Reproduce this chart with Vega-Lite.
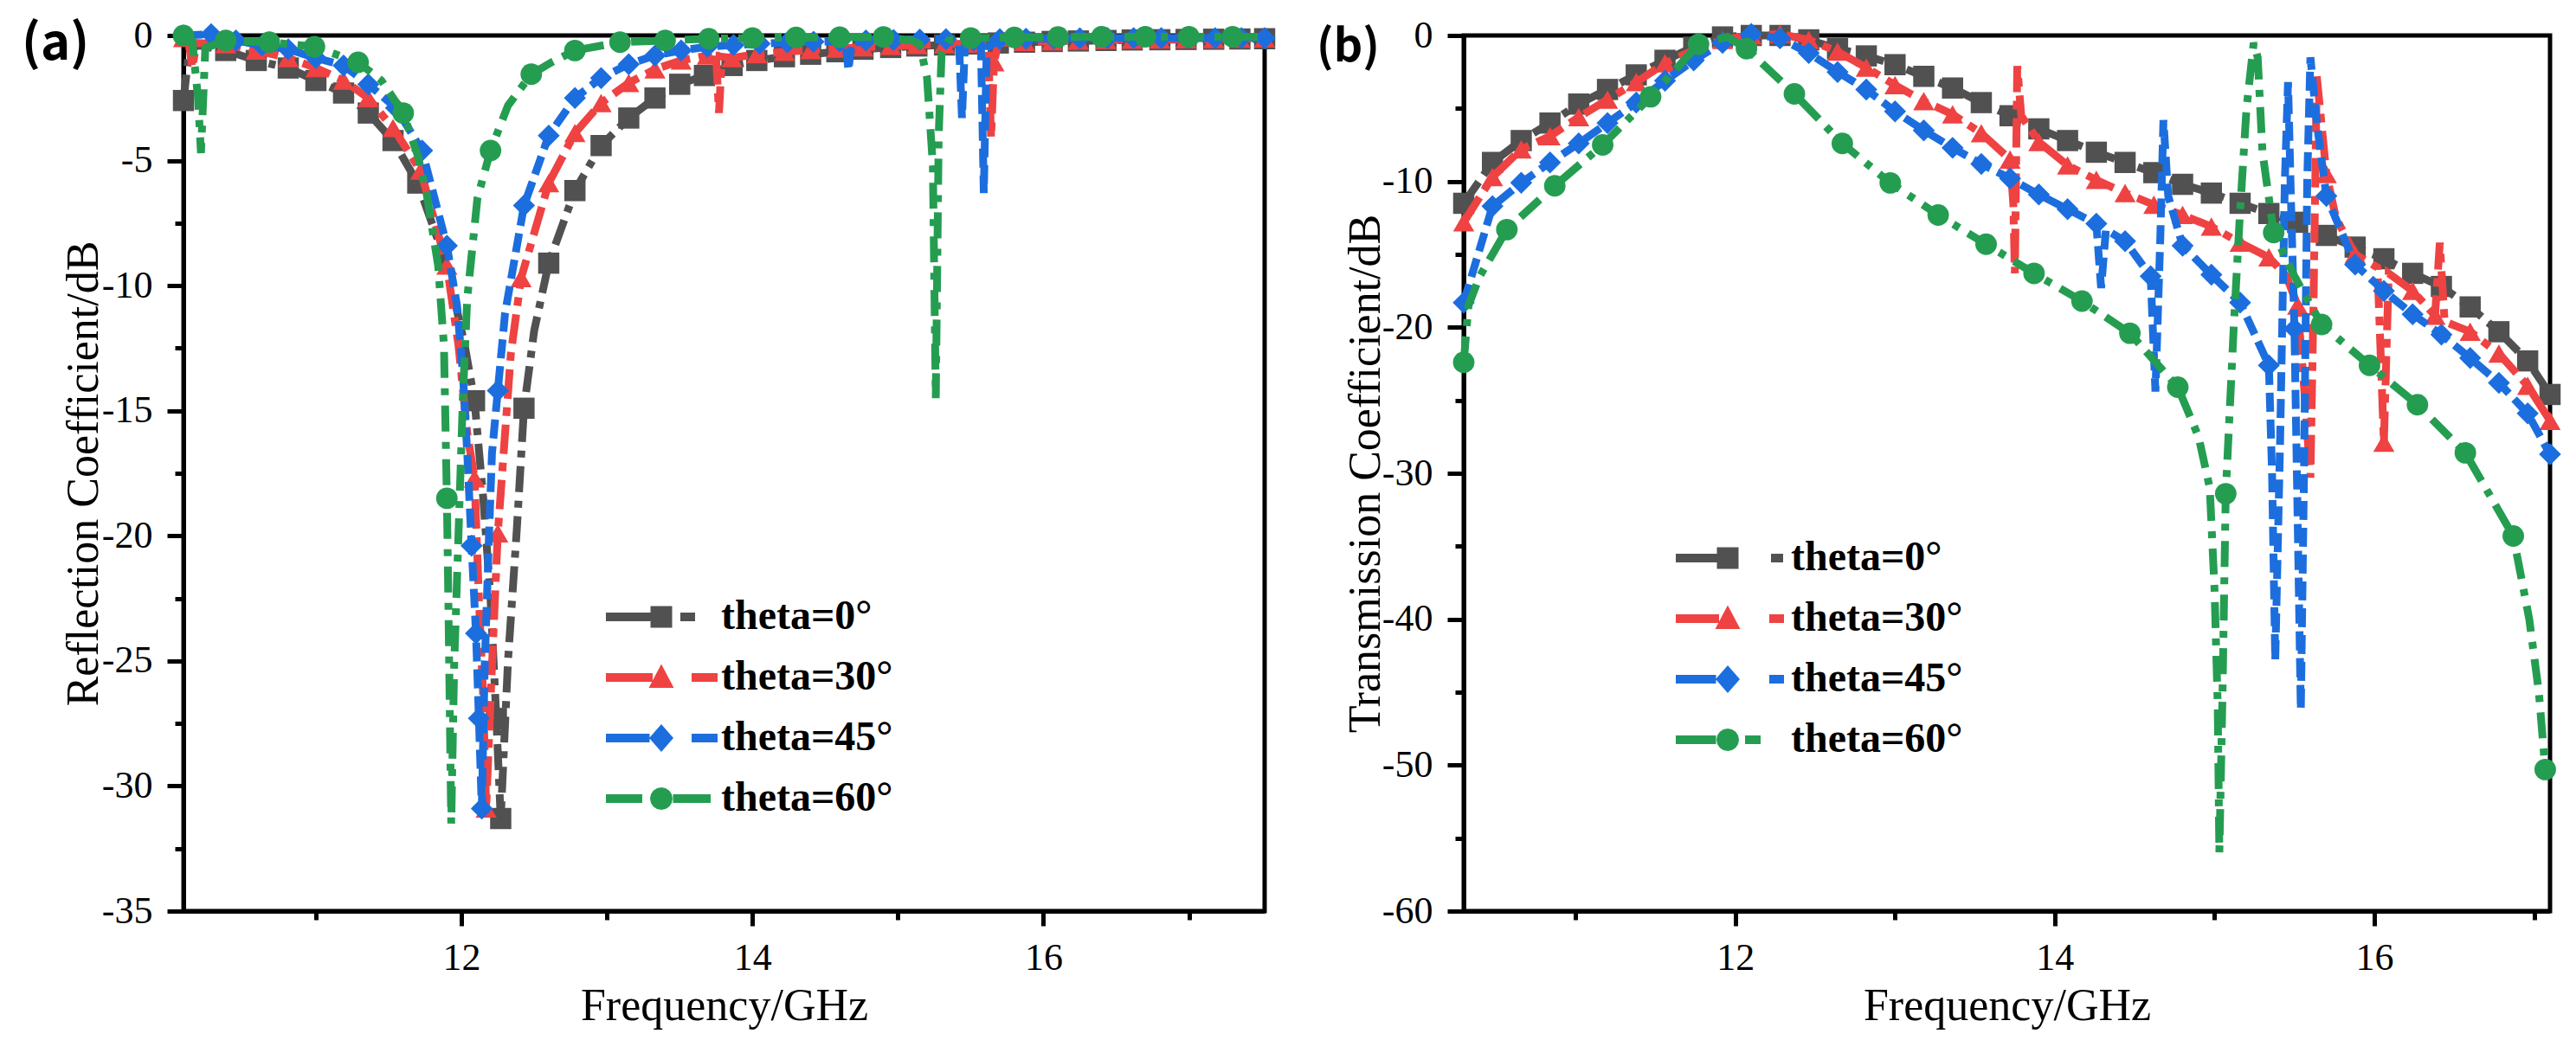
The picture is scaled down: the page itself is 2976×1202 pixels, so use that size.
{
  "$schema": "https://vega.github.io/schema/vega-lite/v6.json",
  "background": "white",
  "padding": {"left": 22, "top": 16, "right": 0, "bottom": 0},
  "datasets": {
    "A": [
      {"s":"theta=0°","f":10.09,"v":-2.6,"m":1},{"s":"theta=0°","f":10.13,"v":-0.5,"m":0},{"s":"theta=0°","f":10.2,"v":-0.4,"m":0},{"s":"theta=0°","f":10.38,"v":-0.6,"m":1},{"s":"theta=0°","f":10.59,"v":-1.0,"m":1},{"s":"theta=0°","f":10.81,"v":-1.3,"m":1},{"s":"theta=0°","f":11.0,"v":-1.8,"m":1},{"s":"theta=0°","f":11.19,"v":-2.3,"m":1},{"s":"theta=0°","f":11.36,"v":-3.1,"m":1},{"s":"theta=0°","f":11.53,"v":-4.2,"m":1},{"s":"theta=0°","f":11.7,"v":-5.9,"m":1},{"s":"theta=0°","f":11.87,"v":-8.7,"m":0},{"s":"theta=0°","f":11.95,"v":-10.5,"m":0},{"s":"theta=0°","f":12.02,"v":-12.3,"m":0},{"s":"theta=0°","f":12.09,"v":-14.6,"m":1},{"s":"theta=0°","f":12.15,"v":-18.5,"m":0},{"s":"theta=0°","f":12.2,"v":-22.5,"m":0},{"s":"theta=0°","f":12.24,"v":-27.3,"m":1},{"s":"theta=0°","f":12.27,"v":-31.3,"m":1},{"s":"theta=0°","f":12.32,"v":-25.0,"m":0},{"s":"theta=0°","f":12.38,"v":-19.8,"m":0},{"s":"theta=0°","f":12.43,"v":-14.9,"m":1},{"s":"theta=0°","f":12.5,"v":-11.8,"m":0},{"s":"theta=0°","f":12.6,"v":-9.1,"m":1},{"s":"theta=0°","f":12.78,"v":-6.2,"m":1},{"s":"theta=0°","f":12.96,"v":-4.4,"m":1},{"s":"theta=0°","f":13.15,"v":-3.3,"m":1},{"s":"theta=0°","f":13.33,"v":-2.5,"m":1},{"s":"theta=0°","f":13.5,"v":-1.95,"m":1},{"s":"theta=0°","f":13.67,"v":-1.6,"m":1},{"s":"theta=0°","f":13.86,"v":-1.2,"m":1},{"s":"theta=0°","f":14.03,"v":-1.0,"m":1},{"s":"theta=0°","f":14.22,"v":-0.85,"m":1},{"s":"theta=0°","f":14.4,"v":-0.75,"m":1},{"s":"theta=0°","f":14.58,"v":-0.65,"m":1},{"s":"theta=0°","f":14.76,"v":-0.55,"m":1},{"s":"theta=0°","f":14.95,"v":-0.48,"m":1},{"s":"theta=0°","f":15.13,"v":-0.42,"m":1},{"s":"theta=0°","f":15.32,"v":-0.38,"m":1},{"s":"theta=0°","f":15.5,"v":-0.34,"m":1},{"s":"theta=0°","f":15.69,"v":-0.3,"m":1},{"s":"theta=0°","f":15.87,"v":-0.27,"m":1},{"s":"theta=0°","f":16.06,"v":-0.24,"m":1},{"s":"theta=0°","f":16.24,"v":-0.22,"m":1},{"s":"theta=0°","f":16.43,"v":-0.2,"m":1},{"s":"theta=0°","f":16.61,"v":-0.18,"m":1},{"s":"theta=0°","f":16.8,"v":-0.17,"m":1},{"s":"theta=0°","f":16.98,"v":-0.16,"m":1},{"s":"theta=0°","f":17.17,"v":-0.15,"m":1},{"s":"theta=0°","f":17.35,"v":-0.14,"m":1},{"s":"theta=0°","f":17.52,"v":-0.13,"m":1},

      {"s":"theta=30°","f":10.09,"v":-0.1,"m":1},{"s":"theta=30°","f":10.13,"v":-0.4,"m":0},{"s":"theta=30°","f":10.15,"v":-1.3,"m":0},{"s":"theta=30°","f":10.18,"v":-0.3,"m":0},{"s":"theta=30°","f":10.38,"v":-0.35,"m":1},{"s":"theta=30°","f":10.59,"v":-0.6,"m":1},{"s":"theta=30°","f":10.81,"v":-0.9,"m":1},{"s":"theta=30°","f":11.0,"v":-1.3,"m":1},{"s":"theta=30°","f":11.19,"v":-1.8,"m":1},{"s":"theta=30°","f":11.36,"v":-2.5,"m":1},{"s":"theta=30°","f":11.53,"v":-3.7,"m":1},{"s":"theta=30°","f":11.72,"v":-5.4,"m":1},{"s":"theta=30°","f":11.9,"v":-9.2,"m":1},{"s":"theta=30°","f":11.98,"v":-12.4,"m":0},{"s":"theta=30°","f":12.04,"v":-15.9,"m":0},{"s":"theta=30°","f":12.09,"v":-17.7,"m":1},{"s":"theta=30°","f":12.12,"v":-22.5,"m":0},{"s":"theta=30°","f":12.15,"v":-26.5,"m":0},{"s":"theta=30°","f":12.17,"v":-30.9,"m":1},{"s":"theta=30°","f":12.21,"v":-25.2,"m":0},{"s":"theta=30°","f":12.25,"v":-19.9,"m":1},{"s":"theta=30°","f":12.3,"v":-15.9,"m":0},{"s":"theta=30°","f":12.34,"v":-12.7,"m":0},{"s":"theta=30°","f":12.41,"v":-9.7,"m":1},{"s":"theta=30°","f":12.6,"v":-5.9,"m":1},{"s":"theta=30°","f":12.78,"v":-3.9,"m":1},{"s":"theta=30°","f":12.96,"v":-2.7,"m":1},{"s":"theta=30°","f":13.15,"v":-1.9,"m":1},{"s":"theta=30°","f":13.33,"v":-1.35,"m":1},{"s":"theta=30°","f":13.51,"v":-1.0,"m":1},{"s":"theta=30°","f":13.69,"v":-0.8,"m":1},{"s":"theta=30°","f":13.75,"v":-0.8,"m":0},{"s":"theta=30°","f":13.77,"v":-3.1,"m":0},{"s":"theta=30°","f":13.79,"v":-0.85,"m":0},{"s":"theta=30°","f":13.86,"v":-0.9,"m":1},{"s":"theta=30°","f":14.03,"v":-0.75,"m":1},{"s":"theta=30°","f":14.22,"v":-0.65,"m":1},{"s":"theta=30°","f":14.4,"v":-0.58,"m":1},{"s":"theta=30°","f":14.58,"v":-0.52,"m":1},{"s":"theta=30°","f":14.76,"v":-0.47,"m":1},{"s":"theta=30°","f":14.95,"v":-0.42,"m":1},{"s":"theta=30°","f":15.13,"v":-0.38,"m":1},{"s":"theta=30°","f":15.32,"v":-0.35,"m":1},{"s":"theta=30°","f":15.5,"v":-0.33,"m":1},{"s":"theta=30°","f":15.62,"v":-0.4,"m":0},{"s":"theta=30°","f":15.64,"v":-4.1,"m":0},{"s":"theta=30°","f":15.66,"v":-1.07,"m":1},{"s":"theta=30°","f":15.69,"v":-0.3,"m":0},{"s":"theta=30°","f":15.87,"v":-0.26,"m":1},{"s":"theta=30°","f":16.06,"v":-0.23,"m":1},{"s":"theta=30°","f":16.24,"v":-0.2,"m":1},{"s":"theta=30°","f":16.43,"v":-0.18,"m":1},{"s":"theta=30°","f":16.61,"v":-0.17,"m":1},{"s":"theta=30°","f":16.8,"v":-0.16,"m":1},{"s":"theta=30°","f":16.98,"v":-0.15,"m":1},{"s":"theta=30°","f":17.17,"v":-0.14,"m":1},{"s":"theta=30°","f":17.35,"v":-0.13,"m":1},{"s":"theta=30°","f":17.52,"v":-0.12,"m":1},

      {"s":"theta=45°","f":10.09,"v":0.0,"m":1},{"s":"theta=45°","f":10.28,"v":0.05,"m":1},{"s":"theta=45°","f":10.45,"v":-0.2,"m":1},{"s":"theta=45°","f":10.63,"v":-0.4,"m":1},{"s":"theta=45°","f":10.81,"v":-0.55,"m":1},{"s":"theta=45°","f":11.0,"v":-0.9,"m":1},{"s":"theta=45°","f":11.19,"v":-1.2,"m":1},{"s":"theta=45°","f":11.36,"v":-1.95,"m":1},{"s":"theta=45°","f":11.55,"v":-2.9,"m":1},{"s":"theta=45°","f":11.73,"v":-4.6,"m":1},{"s":"theta=45°","f":11.9,"v":-8.4,"m":1},{"s":"theta=45°","f":11.97,"v":-10.8,"m":0},{"s":"theta=45°","f":12.01,"v":-13.5,"m":0},{"s":"theta=45°","f":12.04,"v":-16.7,"m":0},{"s":"theta=45°","f":12.07,"v":-20.4,"m":1},{"s":"theta=45°","f":12.1,"v":-23.9,"m":1},{"s":"theta=45°","f":12.12,"v":-27.3,"m":1},{"s":"theta=45°","f":12.14,"v":-30.9,"m":1},{"s":"theta=45°","f":12.16,"v":-25.2,"m":0},{"s":"theta=45°","f":12.19,"v":-19.9,"m":0},{"s":"theta=45°","f":12.21,"v":-16.7,"m":0},{"s":"theta=45°","f":12.25,"v":-14.2,"m":1},{"s":"theta=45°","f":12.3,"v":-11.1,"m":0},{"s":"theta=45°","f":12.43,"v":-6.8,"m":1},{"s":"theta=45°","f":12.6,"v":-4.0,"m":1},{"s":"theta=45°","f":12.78,"v":-2.5,"m":1},{"s":"theta=45°","f":12.96,"v":-1.7,"m":1},{"s":"theta=45°","f":13.15,"v":-1.15,"m":1},{"s":"theta=45°","f":13.33,"v":-0.8,"m":1},{"s":"theta=45°","f":13.51,"v":-0.6,"m":1},{"s":"theta=45°","f":13.69,"v":-0.45,"m":1},{"s":"theta=45°","f":13.87,"v":-0.38,"m":1},{"s":"theta=45°","f":14.05,"v":-0.33,"m":1},{"s":"theta=45°","f":14.24,"v":-0.28,"m":1},{"s":"theta=45°","f":14.42,"v":-0.25,"m":1},{"s":"theta=45°","f":14.6,"v":-0.23,"m":1},{"s":"theta=45°","f":14.64,"v":-0.3,"m":0},{"s":"theta=45°","f":14.66,"v":-1.4,"m":0},{"s":"theta=45°","f":14.68,"v":-0.3,"m":0},{"s":"theta=45°","f":14.78,"v":-0.2,"m":1},{"s":"theta=45°","f":14.97,"v":-0.18,"m":1},{"s":"theta=45°","f":15.15,"v":-0.16,"m":1},{"s":"theta=45°","f":15.33,"v":-0.15,"m":1},{"s":"theta=45°","f":15.42,"v":-0.3,"m":0},{"s":"theta=45°","f":15.44,"v":-3.3,"m":0},{"s":"theta=45°","f":15.46,"v":-0.4,"m":0},{"s":"theta=45°","f":15.52,"v":-0.2,"m":1},{"s":"theta=45°","f":15.57,"v":-0.3,"m":0},{"s":"theta=45°","f":15.59,"v":-6.3,"m":0},{"s":"theta=45°","f":15.61,"v":-0.5,"m":0},{"s":"theta=45°","f":15.7,"v":-0.15,"m":1},{"s":"theta=45°","f":15.88,"v":-0.13,"m":1},{"s":"theta=45°","f":16.07,"v":-0.12,"m":1},{"s":"theta=45°","f":16.25,"v":-0.11,"m":1},{"s":"theta=45°","f":16.44,"v":-0.1,"m":1},{"s":"theta=45°","f":16.62,"v":-0.1,"m":1},{"s":"theta=45°","f":16.81,"v":-0.1,"m":1},{"s":"theta=45°","f":16.99,"v":-0.1,"m":1},{"s":"theta=45°","f":17.18,"v":-0.1,"m":1},{"s":"theta=45°","f":17.36,"v":-0.1,"m":1},{"s":"theta=45°","f":17.52,"v":-0.1,"m":1},

      {"s":"theta=60°","f":10.09,"v":0.0,"m":1},{"s":"theta=60°","f":10.15,"v":-0.2,"m":0},{"s":"theta=60°","f":10.19,"v":-2.5,"m":0},{"s":"theta=60°","f":10.21,"v":-4.7,"m":0},{"s":"theta=60°","f":10.24,"v":-0.5,"m":0},{"s":"theta=60°","f":10.38,"v":-0.2,"m":1},{"s":"theta=60°","f":10.68,"v":-0.27,"m":1},{"s":"theta=60°","f":10.99,"v":-0.45,"m":1},{"s":"theta=60°","f":11.29,"v":-1.07,"m":1},{"s":"theta=60°","f":11.45,"v":-1.8,"m":0},{"s":"theta=60°","f":11.6,"v":-3.1,"m":1},{"s":"theta=60°","f":11.7,"v":-4.8,"m":0},{"s":"theta=60°","f":11.76,"v":-6.3,"m":0},{"s":"theta=60°","f":11.84,"v":-9.2,"m":0},{"s":"theta=60°","f":11.88,"v":-12.4,"m":0},{"s":"theta=60°","f":11.9,"v":-18.5,"m":1},{"s":"theta=60°","f":11.91,"v":-22.5,"m":0},{"s":"theta=60°","f":11.93,"v":-31.5,"m":0},{"s":"theta=60°","f":11.95,"v":-25.2,"m":0},{"s":"theta=60°","f":11.98,"v":-19.9,"m":0},{"s":"theta=60°","f":12.01,"v":-14.5,"m":0},{"s":"theta=60°","f":12.04,"v":-10.5,"m":0},{"s":"theta=60°","f":12.11,"v":-6.5,"m":0},{"s":"theta=60°","f":12.2,"v":-4.6,"m":1},{"s":"theta=60°","f":12.32,"v":-2.8,"m":0},{"s":"theta=60°","f":12.48,"v":-1.55,"m":1},{"s":"theta=60°","f":12.62,"v":-1.07,"m":0},{"s":"theta=60°","f":12.78,"v":-0.6,"m":1},{"s":"theta=60°","f":13.09,"v":-0.27,"m":1},{"s":"theta=60°","f":13.4,"v":-0.2,"m":1},{"s":"theta=60°","f":13.7,"v":-0.13,"m":1},{"s":"theta=60°","f":14.0,"v":-0.1,"m":1},{"s":"theta=60°","f":14.3,"v":-0.08,"m":1},{"s":"theta=60°","f":14.6,"v":-0.07,"m":1},{"s":"theta=60°","f":14.9,"v":-0.06,"m":1},{"s":"theta=60°","f":15.1,"v":-0.2,"m":0},{"s":"theta=60°","f":15.15,"v":-0.35,"m":0},{"s":"theta=60°","f":15.2,"v":-1.7,"m":0},{"s":"theta=60°","f":15.24,"v":-5.2,"m":0},{"s":"theta=60°","f":15.26,"v":-14.5,"m":0},{"s":"theta=60°","f":15.28,"v":-4.0,"m":0},{"s":"theta=60°","f":15.3,"v":-0.7,"m":0},{"s":"theta=60°","f":15.35,"v":-0.2,"m":0},{"s":"theta=60°","f":15.5,"v":-0.1,"m":1},{"s":"theta=60°","f":15.8,"v":-0.08,"m":1},{"s":"theta=60°","f":16.1,"v":-0.06,"m":1},{"s":"theta=60°","f":16.4,"v":-0.05,"m":1},{"s":"theta=60°","f":16.7,"v":-0.05,"m":1},{"s":"theta=60°","f":17.0,"v":-0.05,"m":1},{"s":"theta=60°","f":17.3,"v":-0.05,"m":1},{"s":"theta=60°","f":17.52,"v":-0.05,"m":0}
    ],
    "B": [
      {"s":"theta=0°","f":10.3,"v":-11.5,"m":1},{"s":"theta=0°","f":10.48,"v":-8.7,"m":1},{"s":"theta=0°","f":10.66,"v":-7.2,"m":1},{"s":"theta=0°","f":10.84,"v":-6.0,"m":1},{"s":"theta=0°","f":11.02,"v":-4.7,"m":1},{"s":"theta=0°","f":11.2,"v":-3.7,"m":1},{"s":"theta=0°","f":11.38,"v":-2.7,"m":1},{"s":"theta=0°","f":11.56,"v":-1.7,"m":1},{"s":"theta=0°","f":11.74,"v":-0.8,"m":1},{"s":"theta=0°","f":11.92,"v":-0.1,"m":1},{"s":"theta=0°","f":12.1,"v":0.0,"m":1},{"s":"theta=0°","f":12.28,"v":0.0,"m":1},{"s":"theta=0°","f":12.46,"v":-0.3,"m":1},{"s":"theta=0°","f":12.64,"v":-0.9,"m":1},{"s":"theta=0°","f":12.82,"v":-1.4,"m":1},{"s":"theta=0°","f":13.0,"v":-2.0,"m":1},{"s":"theta=0°","f":13.18,"v":-2.8,"m":1},{"s":"theta=0°","f":13.36,"v":-3.6,"m":1},{"s":"theta=0°","f":13.54,"v":-4.6,"m":1},{"s":"theta=0°","f":13.72,"v":-5.5,"m":1},{"s":"theta=0°","f":13.9,"v":-6.4,"m":1},{"s":"theta=0°","f":14.08,"v":-7.2,"m":1},{"s":"theta=0°","f":14.26,"v":-8.0,"m":1},{"s":"theta=0°","f":14.44,"v":-8.7,"m":1},{"s":"theta=0°","f":14.62,"v":-9.4,"m":1},{"s":"theta=0°","f":14.8,"v":-10.2,"m":1},{"s":"theta=0°","f":14.98,"v":-10.8,"m":1},{"s":"theta=0°","f":15.16,"v":-11.5,"m":1},{"s":"theta=0°","f":15.34,"v":-12.2,"m":1},{"s":"theta=0°","f":15.52,"v":-12.8,"m":1},{"s":"theta=0°","f":15.7,"v":-13.7,"m":1},{"s":"theta=0°","f":15.88,"v":-14.5,"m":1},{"s":"theta=0°","f":16.06,"v":-15.3,"m":1},{"s":"theta=0°","f":16.24,"v":-16.3,"m":1},{"s":"theta=0°","f":16.42,"v":-17.2,"m":1},{"s":"theta=0°","f":16.6,"v":-18.6,"m":1},{"s":"theta=0°","f":16.78,"v":-20.3,"m":1},{"s":"theta=0°","f":16.96,"v":-22.3,"m":1},{"s":"theta=0°","f":17.1,"v":-24.6,"m":1},

      {"s":"theta=30°","f":10.3,"v":-12.8,"m":1},{"s":"theta=30°","f":10.48,"v":-9.7,"m":1},{"s":"theta=30°","f":10.66,"v":-7.8,"m":1},{"s":"theta=30°","f":10.84,"v":-6.9,"m":1},{"s":"theta=30°","f":11.02,"v":-5.6,"m":1},{"s":"theta=30°","f":11.2,"v":-4.4,"m":1},{"s":"theta=30°","f":11.38,"v":-3.2,"m":1},{"s":"theta=30°","f":11.56,"v":-1.9,"m":1},{"s":"theta=30°","f":11.74,"v":-1.0,"m":1},{"s":"theta=30°","f":11.92,"v":-0.3,"m":1},{"s":"theta=30°","f":12.1,"v":0.0,"m":1},{"s":"theta=30°","f":12.28,"v":0.1,"m":1},{"s":"theta=30°","f":12.46,"v":-0.3,"m":1},{"s":"theta=30°","f":12.64,"v":-1.1,"m":1},{"s":"theta=30°","f":12.82,"v":-2.2,"m":1},{"s":"theta=30°","f":13.0,"v":-3.4,"m":1},{"s":"theta=30°","f":13.18,"v":-4.5,"m":1},{"s":"theta=30°","f":13.36,"v":-5.4,"m":1},{"s":"theta=30°","f":13.54,"v":-6.7,"m":1},{"s":"theta=30°","f":13.72,"v":-8.5,"m":1},{"s":"theta=30°","f":13.74,"v":-11.5,"m":0},{"s":"theta=30°","f":13.75,"v":-16.3,"m":0},{"s":"theta=30°","f":13.765,"v":-2.1,"m":0},{"s":"theta=30°","f":13.79,"v":-5.5,"m":0},{"s":"theta=30°","f":13.9,"v":-7.3,"m":1},{"s":"theta=30°","f":14.08,"v":-8.9,"m":1},{"s":"theta=30°","f":14.26,"v":-9.9,"m":1},{"s":"theta=30°","f":14.44,"v":-10.8,"m":1},{"s":"theta=30°","f":14.62,"v":-11.6,"m":1},{"s":"theta=30°","f":14.8,"v":-12.3,"m":1},{"s":"theta=30°","f":14.98,"v":-13.1,"m":1},{"s":"theta=30°","f":15.16,"v":-14.2,"m":1},{"s":"theta=30°","f":15.34,"v":-15.2,"m":1},{"s":"theta=30°","f":15.45,"v":-16.5,"m":0},{"s":"theta=30°","f":15.52,"v":-18.5,"m":1},{"s":"theta=30°","f":15.56,"v":-24.0,"m":0},{"s":"theta=30°","f":15.6,"v":-30.3,"m":0},{"s":"theta=30°","f":15.62,"v":-18.0,"m":0},{"s":"theta=30°","f":15.64,"v":-2.8,"m":0},{"s":"theta=30°","f":15.66,"v":-5.0,"m":0},{"s":"theta=30°","f":15.7,"v":-9.5,"m":1},{"s":"theta=30°","f":15.76,"v":-12.5,"m":0},{"s":"theta=30°","f":15.88,"v":-15.0,"m":1},{"s":"theta=30°","f":16.02,"v":-15.9,"m":0},{"s":"theta=30°","f":16.06,"v":-27.9,"m":1},{"s":"theta=30°","f":16.09,"v":-16.3,"m":0},{"s":"theta=30°","f":16.24,"v":-17.5,"m":1},{"s":"theta=30°","f":16.38,"v":-19.2,"m":1},{"s":"theta=30°","f":16.41,"v":-14.2,"m":0},{"s":"theta=30°","f":16.44,"v":-19.6,"m":0},{"s":"theta=30°","f":16.6,"v":-20.3,"m":1},{"s":"theta=30°","f":16.78,"v":-21.8,"m":1},{"s":"theta=30°","f":16.96,"v":-24.0,"m":1},{"s":"theta=30°","f":17.1,"v":-26.4,"m":1},

      {"s":"theta=45°","f":10.3,"v":-18.3,"m":1},{"s":"theta=45°","f":10.48,"v":-11.7,"m":1},{"s":"theta=45°","f":10.66,"v":-10.1,"m":1},{"s":"theta=45°","f":10.84,"v":-8.7,"m":1},{"s":"theta=45°","f":11.02,"v":-7.4,"m":1},{"s":"theta=45°","f":11.2,"v":-6.0,"m":1},{"s":"theta=45°","f":11.38,"v":-4.6,"m":1},{"s":"theta=45°","f":11.56,"v":-3.1,"m":1},{"s":"theta=45°","f":11.74,"v":-1.7,"m":1},{"s":"theta=45°","f":11.92,"v":-0.5,"m":1},{"s":"theta=45°","f":12.1,"v":0.1,"m":1},{"s":"theta=45°","f":12.28,"v":-0.2,"m":1},{"s":"theta=45°","f":12.46,"v":-1.2,"m":1},{"s":"theta=45°","f":12.64,"v":-2.5,"m":1},{"s":"theta=45°","f":12.82,"v":-3.7,"m":1},{"s":"theta=45°","f":13.0,"v":-5.2,"m":1},{"s":"theta=45°","f":13.18,"v":-6.5,"m":1},{"s":"theta=45°","f":13.36,"v":-7.7,"m":1},{"s":"theta=45°","f":13.54,"v":-8.8,"m":1},{"s":"theta=45°","f":13.72,"v":-9.8,"m":1},{"s":"theta=45°","f":13.9,"v":-10.9,"m":1},{"s":"theta=45°","f":14.08,"v":-11.9,"m":1},{"s":"theta=45°","f":14.26,"v":-12.9,"m":1},{"s":"theta=45°","f":14.29,"v":-17.3,"m":0},{"s":"theta=45°","f":14.32,"v":-13.3,"m":0},{"s":"theta=45°","f":14.44,"v":-14.1,"m":1},{"s":"theta=45°","f":14.6,"v":-16.5,"m":1},{"s":"theta=45°","f":14.63,"v":-24.4,"m":0},{"s":"theta=45°","f":14.66,"v":-14.0,"m":0},{"s":"theta=45°","f":14.68,"v":-5.8,"m":0},{"s":"theta=45°","f":14.71,"v":-11.0,"m":0},{"s":"theta=45°","f":14.8,"v":-14.4,"m":1},{"s":"theta=45°","f":14.98,"v":-16.4,"m":1},{"s":"theta=45°","f":15.16,"v":-18.3,"m":1},{"s":"theta=45°","f":15.34,"v":-22.6,"m":1},{"s":"theta=45°","f":15.36,"v":-30.0,"m":0},{"s":"theta=45°","f":15.38,"v":-42.8,"m":0},{"s":"theta=45°","f":15.41,"v":-28.0,"m":0},{"s":"theta=45°","f":15.44,"v":-10.0,"m":0},{"s":"theta=45°","f":15.46,"v":-3.2,"m":0},{"s":"theta=45°","f":15.48,"v":-12.0,"m":0},{"s":"theta=45°","f":15.5,"v":-20.1,"m":1},{"s":"theta=45°","f":15.52,"v":-33.0,"m":0},{"s":"theta=45°","f":15.54,"v":-46.2,"m":0},{"s":"theta=45°","f":15.56,"v":-30.0,"m":0},{"s":"theta=45°","f":15.58,"v":-10.0,"m":0},{"s":"theta=45°","f":15.6,"v":-1.5,"m":0},{"s":"theta=45°","f":15.64,"v":-6.0,"m":0},{"s":"theta=45°","f":15.7,"v":-11.0,"m":1},{"s":"theta=45°","f":15.88,"v":-15.7,"m":1},{"s":"theta=45°","f":16.06,"v":-17.5,"m":1},{"s":"theta=45°","f":16.24,"v":-19.1,"m":1},{"s":"theta=45°","f":16.42,"v":-20.5,"m":1},{"s":"theta=45°","f":16.6,"v":-22.1,"m":1},{"s":"theta=45°","f":16.78,"v":-23.8,"m":1},{"s":"theta=45°","f":16.96,"v":-25.9,"m":1},{"s":"theta=45°","f":17.1,"v":-28.7,"m":1},

      {"s":"theta=60°","f":10.3,"v":-22.4,"m":1},{"s":"theta=60°","f":10.33,"v":-18.5,"m":0},{"s":"theta=60°","f":10.4,"v":-16.5,"m":0},{"s":"theta=60°","f":10.57,"v":-13.3,"m":1},{"s":"theta=60°","f":10.87,"v":-10.3,"m":1},{"s":"theta=60°","f":11.17,"v":-7.5,"m":1},{"s":"theta=60°","f":11.47,"v":-4.2,"m":1},{"s":"theta=60°","f":11.77,"v":-0.6,"m":1},{"s":"theta=60°","f":11.95,"v":-0.1,"m":0},{"s":"theta=60°","f":12.07,"v":-0.9,"m":1},{"s":"theta=60°","f":12.37,"v":-4.0,"m":1},{"s":"theta=60°","f":12.67,"v":-7.4,"m":1},{"s":"theta=60°","f":12.97,"v":-10.1,"m":1},{"s":"theta=60°","f":13.27,"v":-12.3,"m":1},{"s":"theta=60°","f":13.57,"v":-14.3,"m":1},{"s":"theta=60°","f":13.87,"v":-16.3,"m":1},{"s":"theta=60°","f":14.17,"v":-18.2,"m":1},{"s":"theta=60°","f":14.47,"v":-20.4,"m":1},{"s":"theta=60°","f":14.77,"v":-24.1,"m":1},{"s":"theta=60°","f":14.9,"v":-27.5,"m":0},{"s":"theta=60°","f":14.97,"v":-31.0,"m":0},{"s":"theta=60°","f":15.0,"v":-38.0,"m":0},{"s":"theta=60°","f":15.02,"v":-46.0,"m":0},{"s":"theta=60°","f":15.03,"v":-56.0,"m":0},{"s":"theta=60°","f":15.05,"v":-45.0,"m":0},{"s":"theta=60°","f":15.07,"v":-31.4,"m":1},{"s":"theta=60°","f":15.12,"v":-20.0,"m":0},{"s":"theta=60°","f":15.16,"v":-12.0,"m":0},{"s":"theta=60°","f":15.2,"v":-5.0,"m":0},{"s":"theta=60°","f":15.245,"v":-0.5,"m":0},{"s":"theta=60°","f":15.27,"v":-1.5,"m":0},{"s":"theta=60°","f":15.3,"v":-8.0,"m":0},{"s":"theta=60°","f":15.37,"v":-13.5,"m":1},{"s":"theta=60°","f":15.5,"v":-16.5,"m":0},{"s":"theta=60°","f":15.67,"v":-19.8,"m":1},{"s":"theta=60°","f":15.97,"v":-22.6,"m":1},{"s":"theta=60°","f":16.27,"v":-25.3,"m":1},{"s":"theta=60°","f":16.57,"v":-28.6,"m":1},{"s":"theta=60°","f":16.87,"v":-34.3,"m":1},{"s":"theta=60°","f":16.97,"v":-40.0,"m":0},{"s":"theta=60°","f":17.03,"v":-45.0,"m":0},{"s":"theta=60°","f":17.07,"v":-50.3,"m":1}
    ]
  },
  "hconcat": [
    {
      "width": 1249,
      "height": 1012,
      "title": {"text": "(a)", "anchor": "start", "frame": "group", "orient": "top", "font": "Noto Sans CJK SC", "fontSize": 58, "fontWeight": "bold", "color": "black", "baseline": "alphabetic", "dx": -187, "dy": 62, "offset": -46},
      "data": {"name": "A"},
      "layer": [
        {
          "transform": [{"filter": "datum.s == 'theta=0°'"}],
          "mark": {"type": "line", "strokeWidth": 9, "strokeDash": [30, 10, 8, 10], "clip": false},
          "encoding": {
            "x": {"field": "f", "type": "quantitative", "scale": {"domain": [10.09, 17.52], "nice": false, "zero": false},
                  "axis": {"values": [12, 14, 16], "title": "Frequency/GHz", "titleY": 125, "titleBaseline": "alphabetic", "tickSize": 17, "labelPadding": 50, "labelBaseline": "alphabetic", "labelFlush": false, "labelOverlap": false}},
            "y": {"field": "v", "type": "quantitative", "scale": {"domain": [-35, 0], "nice": false, "zero": false},
                  "axis": {"values": [-35, -30, -25, -20, -15, -10, -5, 0], "title": "Reflection Coefficient/dB", "titleX": -100, "titleBaseline": "alphabetic", "tickSize": 19, "labelPadding": 17, "labelExpr": "datum.value < 0 ? '-' + abs(datum.value) : '' + datum.value", "labelFlush": false, "labelOverlap": false}},
            "color": {"field": "s", "type": "nominal",
                      "scale": {"domain": ["theta=0°", "theta=30°", "theta=45°", "theta=60°"], "range": ["#515151", "#EF4242", "#1C6EDE", "#259D51"]},
                      "legend": {"orient": "none", "legendX": 528, "legendY": 648, "title": null, "padding": 0, "symbolSize": 400, "symbolOpacity": 1, "symbolStrokeWidth": 0, "labelOffset": 45, "rowPadding": 22, "labelLimit": 0,
                                 "labelFont": "Liberation Serif", "labelFontSize": 48, "labelFontWeight": "bold", "labelColor": "black"}}
          }
        },
        {
          "transform": [{"filter": "datum.s == 'theta=0°' && datum.m == 1"}],
          "mark": {"type": "point", "shape": "square", "filled": true, "size": 600, "opacity": 1, "strokeWidth": 0, "clip": false},
          "encoding": {
            "x": {"field": "f", "type": "quantitative", "axis": {"orient": "bottom", "values": [11, 13, 15, 17], "labels": false, "title": null, "domain": false, "tickSize": 10}},
            "y": {"field": "v", "type": "quantitative", "axis": {"orient": "left", "values": [-32.5, -27.5, -22.5, -17.5, -12.5, -7.5, -2.5], "labels": false, "title": null, "domain": false, "tickSize": 10}},
            "color": {"field": "s", "type": "nominal"}
          }
        },
        {
          "transform": [{"filter": "datum.s == 'theta=30°'"}],
          "mark": {"type": "line", "strokeWidth": 9, "strokeDash": [34, 10, 10, 10], "clip": false},
          "encoding": {"x": {"field": "f", "type": "quantitative", "axis": null}, "y": {"field": "v", "type": "quantitative", "axis": null}, "color": {"field": "s", "type": "nominal"}}
        },
        {
          "transform": [{"filter": "datum.s == 'theta=30°' && datum.m == 1"}],
          "mark": {"type": "point", "shape": "triangle-up", "filled": true, "size": 600, "opacity": 1, "strokeWidth": 0, "clip": false},
          "encoding": {"x": {"field": "f", "type": "quantitative", "axis": null}, "y": {"field": "v", "type": "quantitative", "axis": null}, "color": {"field": "s", "type": "nominal"}}
        },
        {
          "transform": [{"filter": "datum.s == 'theta=45°'"}],
          "mark": {"type": "line", "strokeWidth": 9, "strokeDash": [22, 9], "clip": false},
          "encoding": {"x": {"field": "f", "type": "quantitative", "axis": null}, "y": {"field": "v", "type": "quantitative", "axis": null}, "color": {"field": "s", "type": "nominal"}}
        },
        {
          "transform": [{"filter": "datum.s == 'theta=45°' && datum.m == 1"}],
          "mark": {"type": "point", "shape": "diamond", "filled": true, "size": 650, "opacity": 1, "strokeWidth": 0, "clip": false},
          "encoding": {"x": {"field": "f", "type": "quantitative", "axis": null}, "y": {"field": "v", "type": "quantitative", "axis": null}, "color": {"field": "s", "type": "nominal"}}
        },
        {
          "transform": [{"filter": "datum.s == 'theta=60°'"}],
          "mark": {"type": "line", "strokeWidth": 9, "strokeDash": [30, 12, 8, 12], "clip": false},
          "encoding": {"x": {"field": "f", "type": "quantitative", "axis": null}, "y": {"field": "v", "type": "quantitative", "axis": null}, "color": {"field": "s", "type": "nominal"}}
        },
        {
          "transform": [{"filter": "datum.s == 'theta=60°' && datum.m == 1"}],
          "mark": {"type": "point", "shape": "circle", "filled": true, "size": 620, "opacity": 1, "strokeWidth": 0, "clip": false},
          "encoding": {"x": {"field": "f", "type": "quantitative", "axis": null}, "y": {"field": "v", "type": "quantitative", "axis": null}, "color": {"field": "s", "type": "nominal"}}
        },
        {
          "transform": [{"filter": "datum.m == 1"}],
          "mark": {"type": "point", "filled": true, "size": 1, "opacity": 0},
          "encoding": {
            "x": {"field": "f", "type": "quantitative", "axis": null},
            "y": {"field": "v", "type": "quantitative", "axis": null},
            "color": {"field": "s", "type": "nominal"},
            "shape": {"field": "s", "type": "nominal",
                      "scale": {"domain": ["theta=0°", "theta=30°", "theta=45°", "theta=60°"],
                                "range": ["M-6.4,-0.5H-1.25V0.5H-6.4Z M-1.25,-1.25H1.25V1.25H-1.25Z M2.2,-0.5H3.9V0.5H2.2Z",
                                          "M-6.4,-0.5H-1V0.5H-6.4Z M0,-1.55L1.45,1.2L-1.45,1.2Z M3.5,-0.5H6.5V0.5H3.5Z",
                                          "M-6.4,-0.5H-1.35V0.5H-6.4Z M0,-1.6L1.4,0L0,1.6L-1.4,0Z M3.5,-0.5H6.5V0.5H3.5Z",
                                          "M-6.4,-0.5H-2.2V0.5H-6.4Z M1.3,0L1.201,0.497L0.919,0.919L0.497,1.201L0,1.3L-0.497,1.201L-0.919,0.919L-1.201,0.497L-1.3,0L-1.201,-0.497L-0.919,-0.919L-0.497,-1.201L0,-1.3L0.497,-1.201L0.919,-0.919L1.201,-0.497Z M1.35,-0.5H5.7V0.5H1.35Z"]},
                      "legend": {"orient": "none", "legendX": 528, "legendY": 648, "title": null, "padding": 0, "symbolSize": 400, "symbolOpacity": 1, "symbolStrokeWidth": 0, "labelOffset": 45, "rowPadding": 22, "labelLimit": 0,
                                 "labelFont": "Liberation Serif", "labelFontSize": 48, "labelFontWeight": "bold", "labelColor": "black"}}
          }
        }
      ],
      "resolve": {"axis": {"x": "independent", "y": "independent"}}
    },
    {
      "width": 1255,
      "height": 1012,
      "title": {"text": "(b)", "anchor": "start", "frame": "group", "orient": "top", "font": "Noto Sans CJK SC", "fontSize": 52, "fontWeight": "bold", "color": "black", "baseline": "alphabetic", "dx": -170, "dy": 58, "offset": -46},
      "data": {"name": "B"},
      "layer": [
        {
          "transform": [{"filter": "datum.s == 'theta=0°'"}],
          "mark": {"type": "line", "strokeWidth": 9, "strokeDash": [30, 10, 8, 10], "clip": false},
          "encoding": {
            "x": {"field": "f", "type": "quantitative", "scale": {"domain": [10.3, 17.1], "nice": false, "zero": false},
                  "axis": {"values": [12, 14, 16], "title": "Frequency/GHz", "titleY": 125, "titleBaseline": "alphabetic", "tickSize": 17, "labelPadding": 50, "labelBaseline": "alphabetic", "labelFlush": false, "labelOverlap": false}},
            "y": {"field": "v", "type": "quantitative", "scale": {"domain": [-60, 0], "nice": false, "zero": false},
                  "axis": {"values": [-60, -50, -40, -30, -20, -10, 0], "title": "Transmission Coefficient/dB", "titleX": -98, "titleBaseline": "alphabetic", "tickSize": 19, "labelPadding": 17, "labelExpr": "datum.value < 0 ? '-' + abs(datum.value) : '' + datum.value", "labelFlush": false, "labelOverlap": false}},
            "color": {"field": "s", "type": "nominal",
                      "scale": {"domain": ["theta=0°", "theta=30°", "theta=45°", "theta=60°"], "range": ["#515151", "#EF4242", "#1C6EDE", "#259D51"]},
                      "legend": {"orient": "none", "legendX": 281, "legendY": 580, "title": null, "padding": 0, "symbolSize": 400, "symbolOpacity": 1, "symbolStrokeWidth": 0, "labelOffset": 49, "rowPadding": 22, "labelLimit": 0,
                                 "labelFont": "Liberation Serif", "labelFontSize": 48, "labelFontWeight": "bold", "labelColor": "black"}}
          }
        },
        {
          "transform": [{"filter": "datum.s == 'theta=0°' && datum.m == 1"}],
          "mark": {"type": "point", "shape": "square", "filled": true, "size": 600, "opacity": 1, "strokeWidth": 0, "clip": false},
          "encoding": {
            "x": {"field": "f", "type": "quantitative", "axis": {"orient": "bottom", "values": [11, 13, 15, 17], "labels": false, "title": null, "domain": false, "tickSize": 10}},
            "y": {"field": "v", "type": "quantitative", "axis": {"orient": "left", "values": [-55, -45, -35, -25, -15, -5], "labels": false, "title": null, "domain": false, "tickSize": 10}},
            "color": {"field": "s", "type": "nominal"}
          }
        },
        {
          "transform": [{"filter": "datum.s == 'theta=30°'"}],
          "mark": {"type": "line", "strokeWidth": 9, "strokeDash": [34, 10, 10, 10], "clip": false},
          "encoding": {"x": {"field": "f", "type": "quantitative", "axis": null}, "y": {"field": "v", "type": "quantitative", "axis": null}, "color": {"field": "s", "type": "nominal"}}
        },
        {
          "transform": [{"filter": "datum.s == 'theta=30°' && datum.m == 1"}],
          "mark": {"type": "point", "shape": "triangle-up", "filled": true, "size": 600, "opacity": 1, "strokeWidth": 0, "clip": false},
          "encoding": {"x": {"field": "f", "type": "quantitative", "axis": null}, "y": {"field": "v", "type": "quantitative", "axis": null}, "color": {"field": "s", "type": "nominal"}}
        },
        {
          "transform": [{"filter": "datum.s == 'theta=45°'"}],
          "mark": {"type": "line", "strokeWidth": 9, "strokeDash": [22, 9], "clip": false},
          "encoding": {"x": {"field": "f", "type": "quantitative", "axis": null}, "y": {"field": "v", "type": "quantitative", "axis": null}, "color": {"field": "s", "type": "nominal"}}
        },
        {
          "transform": [{"filter": "datum.s == 'theta=45°' && datum.m == 1"}],
          "mark": {"type": "point", "shape": "diamond", "filled": true, "size": 650, "opacity": 1, "strokeWidth": 0, "clip": false},
          "encoding": {"x": {"field": "f", "type": "quantitative", "axis": null}, "y": {"field": "v", "type": "quantitative", "axis": null}, "color": {"field": "s", "type": "nominal"}}
        },
        {
          "transform": [{"filter": "datum.s == 'theta=60°'"}],
          "mark": {"type": "line", "strokeWidth": 9, "strokeDash": [30, 12, 8, 12], "clip": false},
          "encoding": {"x": {"field": "f", "type": "quantitative", "axis": null}, "y": {"field": "v", "type": "quantitative", "axis": null}, "color": {"field": "s", "type": "nominal"}}
        },
        {
          "transform": [{"filter": "datum.s == 'theta=60°' && datum.m == 1"}],
          "mark": {"type": "point", "shape": "circle", "filled": true, "size": 620, "opacity": 1, "strokeWidth": 0, "clip": false},
          "encoding": {"x": {"field": "f", "type": "quantitative", "axis": null}, "y": {"field": "v", "type": "quantitative", "axis": null}, "color": {"field": "s", "type": "nominal"}}
        },
        {
          "transform": [{"filter": "datum.m == 1"}],
          "mark": {"type": "point", "filled": true, "size": 1, "opacity": 0},
          "encoding": {
            "x": {"field": "f", "type": "quantitative", "axis": null},
            "y": {"field": "v", "type": "quantitative", "axis": null},
            "color": {"field": "s", "type": "nominal"},
            "shape": {"field": "s", "type": "nominal",
                      "scale": {"domain": ["theta=0°", "theta=30°", "theta=45°", "theta=60°"],
                                "range": ["M-6,-0.5H-1.25V0.5H-6Z M-1.25,-1.25H1.25V1.25H-1.25Z M5,-0.5H6.4V0.5H5Z",
                                          "M-6,-0.5H-1V0.5H-6Z M0,-1.55L1.45,1.2L-1.45,1.2Z M4.8,-0.5H6.5V0.5H4.8Z",
                                          "M-6,-0.5H-1.35V0.5H-6Z M0,-1.6L1.4,0L0,1.6L-1.4,0Z M4.8,-0.5H6.5V0.5H4.8Z",
                                          "M-6,-0.5H-1.35V0.5H-6Z M1.3,0L1.201,0.497L0.919,0.919L0.497,1.201L0,1.3L-0.497,1.201L-0.919,0.919L-1.201,0.497L-1.3,0L-1.201,-0.497L-0.919,-0.919L-0.497,-1.201L0,-1.3L0.497,-1.201L0.919,-0.919L1.201,-0.497Z M2,-0.5H3.8V0.5H2Z"]},
                      "legend": {"orient": "none", "legendX": 281, "legendY": 580, "title": null, "padding": 0, "symbolSize": 400, "symbolOpacity": 1, "symbolStrokeWidth": 0, "labelOffset": 49, "rowPadding": 22, "labelLimit": 0,
                                 "labelFont": "Liberation Serif", "labelFontSize": 48, "labelFontWeight": "bold", "labelColor": "black"}}
          }
        }
      ],
      "resolve": {"axis": {"x": "independent", "y": "independent"}}
    }
  ],
  "spacing": 230,
  "bounds": "flush",
  "resolve": {"scale": {"color": "independent", "shape": "independent"}},
  "config": {
    "view": {"stroke": "black", "strokeWidth": 5},
    "axis": {"domainColor": "black", "domainWidth": 5, "tickColor": "black", "tickWidth": 5, "labelColor": "black", "titleColor": "black",
             "labelFont": "Liberation Serif", "titleFont": "Liberation Serif", "labelFontSize": 44, "titleFontSize": 52, "titleFontWeight": "normal", "grid": false}
  }
}
